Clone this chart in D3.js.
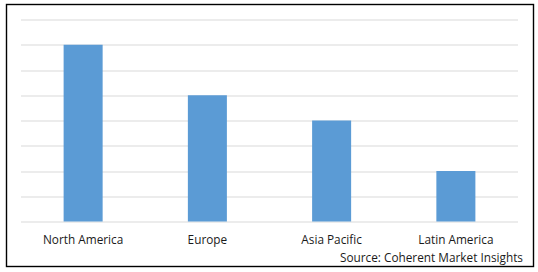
<!DOCTYPE html>
<html>
<head>
<meta charset="utf-8">
<script src="https://cdn.jsdelivr.net/npm/d3@7"></script>
<style>
  body { margin: 0; background: #fff; }
  svg { display: block; }
</style>
</head>
<body>
<svg width="538" height="272"></svg>
<script>
var regions = ["North America", "Europe", "Asia Pacific", "Latin America"];
var values = [7, 5, 4, 2];
var yTicks = [0, 1, 2, 3, 4, 5, 6, 7, 8];

var svg = d3.select("svg"),
    margin = {top: 19.5, right: 20, bottom: 50.5, left: 21},
    width = +svg.attr("width") - margin.left - margin.right,
    height = +svg.attr("height") - margin.top - margin.bottom;

// chart frame
svg.append("rect")
    .attr("x", 6.5).attr("y", 4.5)
    .attr("width", 527).attr("height", 262)
    .attr("fill", "#fff")
    .attr("stroke", "#000")
    .attr("stroke-width", 1.4);

var g = svg.append("g").attr("transform", "translate(" + margin.left + "," + margin.top + ")");

var x = d3.scaleBand().domain(regions).range([0, width])
    .paddingInner(0.686).paddingOuter(0.343);
var y = d3.scaleLinear().domain([0, 8]).range([height, 0]);

g.selectAll(".grid")
    .data(yTicks)
  .enter().append("line")
    .attr("class", "grid")
    .attr("x1", 0).attr("x2", width)
    .attr("y1", function(d) { return Math.round(y(d)) + 0.5; })
    .attr("y2", function(d) { return Math.round(y(d)) + 0.5; })
    .attr("stroke", "#d9d9d9")
    .attr("stroke-width", 1);

g.selectAll(".bar")
    .data(values)
  .enter().append("rect")
    .attr("class", "bar")
    .attr("x", function(d, i) { return x(regions[i]); })
    .attr("width", x.bandwidth())
    .attr("y", function(d) { return y(d); })
    .attr("height", function(d) { return height - y(d); })
    .attr("fill", "#5b9bd5");

var xAxis = g.append("g")
    .attr("transform", "translate(0," + height + ")")
    .call(d3.axisBottom(x).tickSize(0).tickPadding(14));
xAxis.select(".domain").remove();
xAxis.selectAll("text")
    .attr("font-family", "'Open Sans', sans-serif")
    .attr("font-size", "11.8px")
    .attr("fill", "#1a1a1a");

svg.append("text")
    .attr("x", 523).attr("y", 261.5)
    .attr("text-anchor", "end")
    .attr("font-family", "'Open Sans', sans-serif")
    .attr("font-size", "11.8px")
    .attr("fill", "#1a1a1a")
    .text("Source: Coherent Market Insights");
</script>
</body>
</html>
